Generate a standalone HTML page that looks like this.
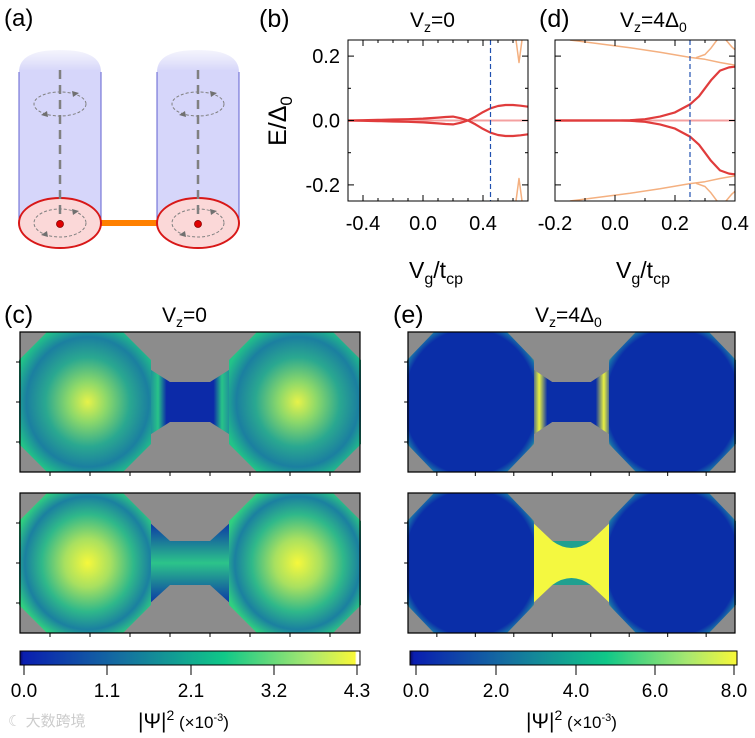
<!DOCTYPE html>
<html><head><meta charset="utf-8">
<style>
html,body{margin:0;padding:0;background:#fff;}
svg{display:block;font-family:"Liberation Sans",sans-serif;}
</style></head>
<body>
<svg id="fig" width="755" height="738" viewBox="0 0 755 738" xmlns="http://www.w3.org/2000/svg">
<defs>
  <linearGradient id="cyl" x1="0" y1="0" x2="0" y2="1">
    <stop offset="0" stop-color="#dcdcf8" stop-opacity="0.3"/>
    <stop offset="0.12" stop-color="#d6d6fa"/>
    <stop offset="1" stop-color="#d6d6fa"/>
  </linearGradient>
  <radialGradient id="blobC1" cx="0.52" cy="0.5" r="0.58">
    <stop offset="0" stop-color="#e6f24a"/>
    <stop offset="0.25" stop-color="#8cd86a"/>
    <stop offset="0.55" stop-color="#2aa890"/>
    <stop offset="0.8" stop-color="#1b7fa0"/>
    <stop offset="1" stop-color="#22c488"/>
  </radialGradient>
  <radialGradient id="blobC2" cx="0.52" cy="0.5" r="0.58">
    <stop offset="0" stop-color="#f6f83c"/>
    <stop offset="0.3" stop-color="#a8e060"/>
    <stop offset="0.6" stop-color="#2fb88a"/>
    <stop offset="0.82" stop-color="#1b80a0"/>
    <stop offset="1" stop-color="#30d080"/>
  </radialGradient>
  <radialGradient id="blobE" cx="0.5" cy="0.5" r="0.62">
    <stop offset="0" stop-color="#0a2ea8"/>
    <stop offset="0.84" stop-color="#0a2ea8"/>
    <stop offset="0.92" stop-color="#1870a8"/>
    <stop offset="1" stop-color="#e8f040"/>
  </radialGradient>
  <linearGradient id="neckC2" x1="0" y1="0" x2="0" y2="1">
    <stop offset="0" stop-color="#0a30a8"/>
    <stop offset="0.5" stop-color="#2cc48a"/>
    <stop offset="1" stop-color="#0a30a8"/>
  </linearGradient>
  <linearGradient id="neckC1" x1="0" y1="0" x2="1" y2="0">
    <stop offset="0" stop-color="#1b7fa0"/>
    <stop offset="0.12" stop-color="#28c488"/>
    <stop offset="0.22" stop-color="#0c2aa8"/>
    <stop offset="0.78" stop-color="#0c2aa8"/>
    <stop offset="0.88" stop-color="#28c488"/>
    <stop offset="1" stop-color="#1b7fa0"/>
  </linearGradient>
  <linearGradient id="neckE1" x1="0" y1="0" x2="1" y2="0">
    <stop offset="0" stop-color="#0a2ea8"/>
    <stop offset="0.1" stop-color="#e8f040"/>
    <stop offset="0.2" stop-color="#0a2ea8"/>
    <stop offset="0.8" stop-color="#0a2ea8"/>
    <stop offset="0.9" stop-color="#e8f040"/>
    <stop offset="1" stop-color="#0a2ea8"/>
  </linearGradient>
  <linearGradient id="cbC" x1="0" y1="0" x2="1" y2="0">
    <stop offset="0" stop-color="#0a0a60"/>
    <stop offset="0.01" stop-color="#0a1eb0"/>
    <stop offset="0.3" stop-color="#1570a0"/>
    <stop offset="0.6" stop-color="#10c888"/>
    <stop offset="0.85" stop-color="#a8e870"/>
    <stop offset="0.985" stop-color="#f8f838"/>
    <stop offset="0.99" stop-color="#ffffff"/>
    <stop offset="1" stop-color="#ffffff"/>
  </linearGradient>
  <linearGradient id="cbE" x1="0" y1="0" x2="1" y2="0">
    <stop offset="0" stop-color="#0a0a60"/>
    <stop offset="0.012" stop-color="#0a1eb0"/>
    <stop offset="0.3" stop-color="#1570a0"/>
    <stop offset="0.6" stop-color="#10c888"/>
    <stop offset="0.85" stop-color="#a8e870"/>
    <stop offset="1" stop-color="#f8f838"/>
  </linearGradient>
</defs>

<!-- Panel (a) -->
<g>
  <text x="4" y="26" font-size="24">(a)</text>
  <path d="M19,72 Q19,50 60,50 Q101,50 101,72 L101,223 L19,223 Z" fill="url(#cyl)"/>
  <line x1="19" y1="72" x2="19" y2="223" stroke="#6060d0" stroke-width="1"/>
  <line x1="101" y1="72" x2="101" y2="223" stroke="#6060d0" stroke-width="1"/>
  <path d="M157,72 Q157,50 198,50 Q239,50 239,72 L239,223 L157,223 Z" fill="url(#cyl)"/>
  <line x1="157" y1="72" x2="157" y2="223" stroke="#6060d0" stroke-width="1"/>
  <line x1="239" y1="72" x2="239" y2="223" stroke="#6060d0" stroke-width="1"/>
  <line x1="100" y1="223" x2="158" y2="223" stroke="#ff8000" stroke-width="6"/>
  <ellipse cx="60" cy="223" rx="41" ry="25" fill="#fbd8d8" stroke="#d81818" stroke-width="2"/>
  <ellipse cx="198" cy="223" rx="41" ry="25" fill="#fbd8d8" stroke="#d81818" stroke-width="2"/>
  <g stroke="#808080" fill="none">
    <line x1="60" y1="70" x2="60" y2="223" stroke-width="2.5" stroke-dasharray="9,6"/>
    <line x1="198" y1="70" x2="198" y2="223" stroke-width="2.5" stroke-dasharray="9,6"/>
    <ellipse cx="60" cy="104" rx="26" ry="12" stroke-dasharray="3,2"/>
    <ellipse cx="198" cy="104" rx="26" ry="12" stroke-dasharray="3,2"/>
    <ellipse cx="60" cy="223" rx="26" ry="14" stroke-dasharray="3,2"/>
    <ellipse cx="198" cy="223" rx="26" ry="14" stroke-dasharray="3,2"/>
  </g>
  <g fill="#707070">
    <path d="M72,91 l7,2 l-6,4 z"/><path d="M48,117 l-7,-2 l6,-4 z"/>
    <path d="M210,91 l7,2 l-6,4 z"/><path d="M186,117 l-7,-2 l6,-4 z"/>
    <path d="M72,209 l7,2 l-6,4 z"/><path d="M48,237 l-7,-2 l6,-4 z"/>
    <path d="M210,209 l7,2 l-6,4 z"/><path d="M186,237 l-7,-2 l6,-4 z"/>
  </g>
  <circle cx="60" cy="224" r="3.5" fill="#e00000" stroke="#800" stroke-width="0.8"/>
  <circle cx="198" cy="224" r="3.5" fill="#e00000" stroke="#800" stroke-width="0.8"/>
</g>

<!-- Panels b and d -->
<g id="lineplots">
  <text x="259" y="27" font-size="25">(b)</text>
  <text x="410" y="27" font-size="21">V<tspan font-size="14" dy="5">z</tspan><tspan dy="-5">=0</tspan></text>
  <text x="539" y="27" font-size="25">(d)</text>
  <text x="620" y="27" font-size="21">V<tspan font-size="14" dy="5">z</tspan><tspan dy="-5">=4Δ</tspan><tspan font-size="14" dy="5">0</tspan></text>
  <text transform="translate(286,121) rotate(-90)" text-anchor="middle" font-size="25">E/Δ<tspan font-size="17" dy="6">0</tspan></text>
  <text x="436" y="278" text-anchor="middle" font-size="23">V<tspan font-size="16" dy="6">g</tspan><tspan dy="-6">/t</tspan><tspan font-size="16" dy="6">cp</tspan></text>
  <text x="643" y="278" text-anchor="middle" font-size="23">V<tspan font-size="16" dy="6">g</tspan><tspan dy="-6">/t</tspan><tspan font-size="16" dy="6">cp</tspan></text>
</g>

<!-- Panel (c) and (e) heatmaps -->
<g>
  <text x="4" y="323" font-size="25">(c)</text>
  <text x="162" y="322" font-size="21">V<tspan font-size="14" dy="5">z</tspan><tspan dy="-5">=0</tspan></text>
</g>
<g>
  <text x="393" y="323" font-size="25">(e)</text>
  <text x="535" y="322" font-size="21">V<tspan font-size="14" dy="5">z</tspan><tspan dy="-5">=4Δ</tspan><tspan font-size="14" dy="5">0</tspan></text>
</g>
<g id="heatmaps"></g>

<!-- Colorbars -->
<g>
  <rect x="20" y="651" width="340" height="14" fill="url(#cbC)" stroke="#000" stroke-width="1"/>
  <g font-size="19" text-anchor="middle">
    <text x="24" y="697">0.0</text><text x="107" y="697">1.1</text><text x="191" y="697">2.1</text><text x="274" y="697">3.2</text><text x="357" y="697">4.3</text>
  </g>
  <g stroke="#000"><line x1="24" y1="665" x2="24" y2="675"/><line x1="107" y1="665" x2="107" y2="675"/><line x1="191" y1="665" x2="191" y2="675"/><line x1="274" y1="665" x2="274" y2="675"/><line x1="357" y1="665" x2="357" y2="675"/></g>
  <text x="138" y="728" font-size="21">|Ψ|<tspan font-size="14" dy="-8">2</tspan><tspan font-size="17" dy="8"> (×10</tspan><tspan font-size="11" dy="-7">-3</tspan><tspan font-size="17" dy="7">)</tspan></text>
  <text x="8" y="726" font-size="15" fill="#cccccc">☾ 大数跨境</text>
</g>
<g>
  <rect x="410" y="651" width="327" height="14" fill="url(#cbE)" stroke="#000" stroke-width="1"/>
  <g font-size="19" text-anchor="middle">
    <text x="416" y="697">0.0</text><text x="496" y="697">2.0</text><text x="576" y="697">4.0</text><text x="655" y="697">6.0</text><text x="734" y="697">8.0</text>
  </g>
  <g stroke="#000"><line x1="416" y1="665" x2="416" y2="675"/><line x1="496" y1="665" x2="496" y2="675"/><line x1="576" y1="665" x2="576" y2="675"/><line x1="655" y1="665" x2="655" y2="675"/><line x1="734" y1="665" x2="734" y2="675"/></g>
  <text x="526" y="728" font-size="21">|Ψ|<tspan font-size="14" dy="-8">2</tspan><tspan font-size="17" dy="8"> (×10</tspan><tspan font-size="11" dy="-7">-3</tspan><tspan font-size="17" dy="7">)</tspan></text>
</g>
</svg>

<script>
// ---- Panel (b) data ----
const bX = [-0.5,-0.4,-0.3,-0.2,-0.1,0.0,0.1,0.15,0.2,0.25,0.3,0.35,0.4,0.45,0.5,0.55,0.6,0.65,0.7];
const bUpper = [0.0,0.001,0.002,0.003,0.004,0.006,0.009,0.011,0.012,0.007,0.0,-0.012,-0.026,-0.038,-0.045,-0.048,-0.048,-0.046,-0.043];
const bOrangeX = [0.62,0.64,0.66];
const bOrangeY = [0.25,0.18,0.25];
const bDashed = 0.45;
const bXTicks = [-0.4,0.0,0.4];
const bXTickLabels = ["-0.4","0.0","0.4"];
const yTicks = [-0.2,0.0,0.2];
const yTickLabels = ["-0.2","0.0","0.2"];
// ---- Panel (d) data ----
const dX = [-0.2,-0.1,0.0,0.05,0.1,0.15,0.2,0.25,0.28,0.3,0.32,0.35,0.38,0.4];
const dUpper = [0.0,0.0,0.0,0.001,0.004,0.012,0.025,0.05,0.075,0.1,0.125,0.155,0.165,0.167];
const dOrangeX = [-0.15,-0.05,0.05,0.15,0.25,0.3,0.35,0.4];
const dOrangeY = [0.25,0.238,0.226,0.212,0.196,0.19,0.18,0.172];
const dBranch1X = [0.27,0.3,0.32,0.34];
const dBranch1Y = [0.195,0.205,0.225,0.25];
const dBranch2X = [0.37,0.39,0.4];
const dBranch2Y = [0.25,0.228,0.22];
const dDashed = 0.25;
const dXTicks = [-0.2,0.0,0.2,0.4];
const dXTickLabels = ["-0.2","0.0","0.2","0.4"];

const NS = "http://www.w3.org/2000/svg";
const host = document.getElementById('lineplots');
function mk(tag, attrs, parent){
  const e = document.createElementNS(NS, tag);
  for (const k in attrs) e.setAttribute(k, attrs[k]);
  (parent||host).appendChild(e);
  return e;
}
function plot(cfg){
  const {x0,x1,y0,y1,xmin,xmax,ymin,ymax} = cfg;
  const sx = v => x0 + (v - xmin) / (xmax - xmin) * (x1 - x0);
  const sy = v => y1 - (v - ymin) / (ymax - ymin) * (y1 - y0);
  const g = mk('g', {});
  
  
  const clip = mk('clipPath', {id: cfg.name + '-clip'}, g);
  mk('rect', {x:x0, y:y0, width:x1-x0, height:y1-y0}, clip);
  const inner = mk('g', {'clip-path': 'url(#' + cfg.name + '-clip)'}, g);
  function line(xs, ys, color, w, name, sign){
    const d = xs.map((v,i) => (i ? 'L' : 'M') + sx(v).toFixed(1) + ',' + sy(sign*ys[i]).toFixed(1)).join(' ');
    const p = mk('path', {d:d, fill:'none', stroke:color, 'stroke-width':w, 'stroke-linejoin':'round'}, inner);
    
    
  }
  const z = mk('line', {x1:x0, x2:x1, y1:sy(0), y2:sy(0), stroke:'#f4a0a0', 'stroke-width':2}, inner);
  
  
  cfg.oranges.forEach((o,i) => {
    line(o[0], o[1], '#f4b080', 1.5, 'orange-branch-upper-' + i, 1);
    line(o[0], o[1], '#f4b080', 1.5, 'orange-branch-lower-' + i, -1);
  });
  line(cfg.xs, cfg.ys, '#e03c3c', 2.2, 'red-branch-upper', 1);
  line(cfg.xs, cfg.ys, '#e03c3c', 2.2, 'red-branch-lower', -1);
  const dl = mk('line', {x1:sx(cfg.dashed), x2:sx(cfg.dashed), y1:y0, y2:y1, stroke:'#2050b0', 'stroke-width':1.2, 'stroke-dasharray':'5,3'}, inner);
  
  
  mk('rect', {x:x0, y:y0, width:x1-x0, height:y1-y0, fill:'none', stroke:'#000', 'stroke-width':1}, g);
  cfg.xticks.forEach((t,i) => {
    mk('line', {x1:sx(t), x2:sx(t), y1:y1, y2:y1-6, stroke:'#000'}, g);
    mk('line', {x1:sx(t), x2:sx(t), y1:y0, y2:y0+6, stroke:'#000'}, g);
    const tx = mk('text', {x:sx(t), y:y1+29, 'font-size':20, 'text-anchor':'middle'}, g);
    tx.textContent = cfg.xlabels[i];
    
    
  });
  for (let t = xmin; t <= xmax + 1e-9; t += 0.1) {
    const tt = Math.round(t*10)/10;
    mk('line', {x1:sx(tt), x2:sx(tt), y1:y1, y2:y1-3, stroke:'#000'}, g);
    mk('line', {x1:sx(tt), x2:sx(tt), y1:y0, y2:y0+3, stroke:'#000'}, g);
  }
  [-0.2,-0.1,0,0.1,0.2].forEach(t => {
    const big = Math.abs(t*10) % 2 === 0;
    mk('line', {x1:x0, x2:x0+(big?6:3), y1:sy(t), y2:sy(t), stroke:'#000'}, g);
    mk('line', {x1:x1, x2:x1-(big?6:3), y1:sy(t), y2:sy(t), stroke:'#000'}, g);
  });
  if (cfg.ylabels) {
    yTicks.forEach((t,i) => {
      const tx = mk('text', {x:x0-8, y:sy(t)+7, 'font-size':20, 'text-anchor':'end'}, g);
      tx.textContent = yTickLabels[i];
      
      
    });
  }
}
plot({name:'plot-b', x0:348, x1:528, y0:40, y1:201, xmin:-0.5, xmax:0.7, ymin:-0.25, ymax:0.25,
      xs:bX, ys:bUpper, oranges:[[bOrangeX,bOrangeY]], dashed:bDashed, xticks:bXTicks, xlabels:bXTickLabels, ylabels:true});
plot({name:'plot-d', x0:555, x1:735, y0:40, y1:201, xmin:-0.2, xmax:0.4, ymin:-0.25, ymax:0.25,
      xs:dX, ys:dUpper, oranges:[[dOrangeX,dOrangeY],[dBranch1X,dBranch1Y],[dBranch2X,dBranch2Y]], dashed:dDashed, xticks:dXTicks, xlabels:dXTickLabels, ylabels:false});

// ---- Heatmaps ----
const hm = document.getElementById('heatmaps');
function heat(name, x, y, w, h, blobFill, neckFill, neckShape, ext){
  const g = mk('g', {transform:'translate(' + x + ',' + y + ') scale(' + (w/340) + ',' + (h/140) + ')'}, hm);
  
  
  mk('rect', {x:0, y:0, width:340, height:140, fill:'#8c8c8c'}, g);
  const oct = (cx) => {
    const l = cx - 66, r = cx + 66, c = 28;
    return [l,c, l+c,0, r-c,0, r,c, r,140-c, r-c,140, l+c,140, l,140-c].join(',');
  };
  const neck = neckShape === 'wide'
    ? 'M128,28 L150,48 L190,48 L212,28 L212,112 L190,92 L150,92 L128,112 Z'
    : 'M128,36 L150,50 L190,50 L212,36 L212,104 L190,90 L150,90 L128,104 Z';
  mk('path', {d:neck, fill:neckFill}, g);
  mk('polygon', {points:oct(65), fill:blobFill}, g);
  mk('polygon', {points:oct(275), fill:blobFill}, g);
  if (ext) ext(g);
  mk('rect', {x:0, y:0, width:340, height:140, fill:'none', stroke:'#000', 'stroke-width':1.2, 'vector-effect':'non-scaling-stroke'}, g);
  [30,70,110].forEach(t => mk('line', {x1:-4, x2:0, y1:t, y2:t, stroke:'#000', 'vector-effect':'non-scaling-stroke'}, g));
  [30,70,110,150,190,230,270,310].forEach(t => mk('line', {x1:t, x2:t, y1:140, y2:144, stroke:'#000', 'vector-effect':'non-scaling-stroke'}, g));
}
heat('heatmap-c-top', 20, 332, 340, 140, 'url(#blobC1)', 'url(#neckC1)', 'narrow');
heat('heatmap-c-bottom', 20, 493, 340, 140, 'url(#blobC2)', 'url(#neckC2)', 'wide');
heat('heatmap-e-top', 408, 332, 327, 140, 'url(#blobE)', 'url(#neckE1)', 'narrow');
heat('heatmap-e-bottom', 408, 493, 327, 140, 'url(#blobE)', '#f4f840', 'wide', g => {
  mk('path', {d:'M150,48 L190,48 Q170,62 150,48 Z', fill:'#20a090'}, g);
  mk('path', {d:'M150,92 L190,92 Q170,78 150,92 Z', fill:'#20a090'}, g);
});
</script>
</body></html>
